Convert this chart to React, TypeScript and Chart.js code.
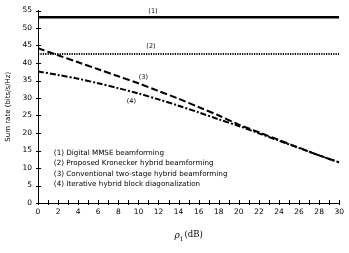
import React, { useEffect, useRef } from "react";
import { Chart, registerables } from "chart.js";

Chart.register(...registerables);

const xValues = [0, 2, 4, 6, 8, 10, 12, 14, 16, 18, 20, 22, 24, 26, 28, 30];
const digitalMMSE = [53.1, 53.1, 53.1, 53.1, 53.1, 53.1, 53.1, 53.1, 53.1, 53.1, 53.1, 53.1, 53.1, 53.1, 53.1, 53.1];
const kroneckerHybrid = [42.6, 42.6, 42.6, 42.6, 42.6, 42.6, 42.6, 42.6, 42.6, 42.6, 42.6, 42.6, 42.6, 42.6, 42.6, 42.6];
const twoStageHybrid = [44.2, 42.2, 40.2, 38.2, 36.2, 34.2, 32.0, 29.8, 27.4, 25.0, 22.4, 20.2, 18.0, 15.8, 13.6, 11.6];
const blockDiag = [37.6, 36.6, 35.5, 34.2, 32.8, 31.3, 29.6, 27.8, 25.9, 23.9, 22.0, 19.9, 17.8, 15.7, 13.6, 11.6];

const legendLines = [
  "(1) Digital MMSE beamforming",
  "(2) Proposed Kronecker hybrid beamforming",
  "(3) Conventional two-stage hybrid beamforming",
  "(4) Iterative hybrid block diagonalization",
];
const curveTags = ["(1)", "(2)", "(3)", "(4)"];
const tagAnchors = [
  [11.45, 54.7],
  [11.25, 44.8],
  [10.5, 35.9],
  [9.3, 29.0],
];

const SANS = "'DejaVu Sans', sans-serif";

const overlay = {
  id: "overlay",
  afterDraw(chart: any) {
    const ctx = chart.ctx;
    const xs = chart.scales.x;
    const ys = chart.scales.y;
    const x0 = xs.left;
    const y0 = ys.bottom;
    ctx.save();
    ctx.strokeStyle = "#000";
    ctx.lineWidth = 1;
    ctx.beginPath();
    for (let v = 0; v <= 30; v++) {
      const px = Math.round(xs.getPixelForValue(v)) + 0.5;
      ctx.moveTo(px, y0 - 3);
      ctx.lineTo(px, y0 + 2);
    }
    for (let v = 0; v <= 55; v += 5) {
      const py = Math.round(ys.getPixelForValue(v)) + 0.5;
      ctx.moveTo(x0 - 2, py);
      ctx.lineTo(x0 + 3, py);
    }
    ctx.stroke();

    ctx.fillStyle = "#000";
    ctx.font = "6.5px " + SANS;
    ctx.textAlign = "center";
    ctx.textBaseline = "middle";
    curveTags.forEach((t, i) => {
      ctx.fillText(t, xs.getPixelForValue(tagAnchors[i][0]), ys.getPixelForValue(tagAnchors[i][1]));
    });

    ctx.textAlign = "left";
    ctx.font = "7.2px " + SANS;
    const lx = xs.getPixelForValue(1.58);
    legendLines.forEach((t, i) => {
      ctx.fillText(t, lx, ys.getPixelForValue(14.3 - i * 3));
    });

    // x-axis title: italic rho with subscript 1
    const cx = (xs.left + xs.right) / 2;
    const ty = 236;
    ctx.font = "italic 9px 'DejaVu Serif', serif";
    const w1 = ctx.measureText("ρ").width;
    ctx.font = "6px 'DejaVu Serif', serif";
    const w2 = ctx.measureText("1").width;
    ctx.font = "8.5px 'DejaVu Serif', serif";
    const w3 = ctx.measureText("(dB)").width;
    const total = w1 + w2 + 1 + w3;
    let sx = cx - total / 2;
    ctx.font = "italic 9px 'DejaVu Serif', serif";
    ctx.fillText("ρ", sx, ty);
    sx += w1;
    ctx.font = "6px 'DejaVu Serif', serif";
    ctx.fillText("1", sx, ty + 3);
    sx += w2 + 1;
    ctx.font = "8.5px 'DejaVu Serif', serif";
    ctx.fillText("(dB)", sx, ty - 1);

    // y-axis title
    ctx.save();
    ctx.translate(8, (ys.top + ys.bottom) / 2);
    ctx.rotate(-Math.PI / 2);
    ctx.textAlign = "center";
    ctx.font = "7px " + SANS;
    ctx.fillText("Sum rate (bits/s/Hz)", 0, 0);
    ctx.restore();
    ctx.restore();
  },
};

export default function App() {
  const ref = useRef<HTMLCanvasElement>(null);
  useEffect(() => {
    if (!ref.current) return;
    const mk = (vals: number[]) => vals.map((v, i) => ({ x: xValues[i], y: v }));
    const chart = new Chart(ref.current, {
      type: "line",
      data: {
        datasets: [
          { label: legendLines[0], data: mk(digitalMMSE), borderColor: "#000", borderWidth: 2.5, pointRadius: 0, tension: 0 },
          { label: legendLines[1], data: mk(kroneckerHybrid), borderColor: "#000", borderWidth: 2, borderDash: [1.2, 1.2], pointRadius: 0, tension: 0 },
          { label: legendLines[2], data: mk(twoStageHybrid), borderColor: "#000", borderWidth: 2, borderDash: [7, 3], pointRadius: 0, tension: 0.3 },
          { label: legendLines[3], data: mk(blockDiag), borderColor: "#000", borderWidth: 2, borderDash: [6, 2, 2, 2], pointRadius: 0, tension: 0.3 },
        ],
      },
      options: {
        animation: false,
        responsive: false,
        maintainAspectRatio: false,
        layout: { padding: { top: 10, right: 7, left: 0, bottom: 0 } },
        plugins: { legend: { display: false }, tooltip: { enabled: false } },
        scales: {
          x: {
            type: "linear",
            min: 0,
            max: 30,
            grid: { display: false, drawTicks: false },
            border: { display: true, color: "#000", width: 1 },
            ticks: { stepSize: 2, color: "#000", padding: 5, maxRotation: 0, font: { size: 7.5, family: SANS } },
            afterFit: (s: any) => { s.height = 50; },
          },
          y: {
            type: "linear",
            min: 0,
            max: 55,
            grid: { display: false, drawTicks: false },
            border: { display: true, color: "#000", width: 1 },
            ticks: { stepSize: 5, color: "#000", padding: 6, font: { size: 7.5, family: SANS } },
            afterFit: (s: any) => { s.width = 38; },
          },
        },
      },
      plugins: [overlay],
    });
    return () => chart.destroy();
  }, []);
  return (
    <div style={{ position: "fixed", left: 0, top: 0, width: 349, height: 253, background: "#fff" }}>
      <canvas ref={ref} width={349} height={253} style={{ width: 349, height: 253 }} />
    </div>
  );
}
